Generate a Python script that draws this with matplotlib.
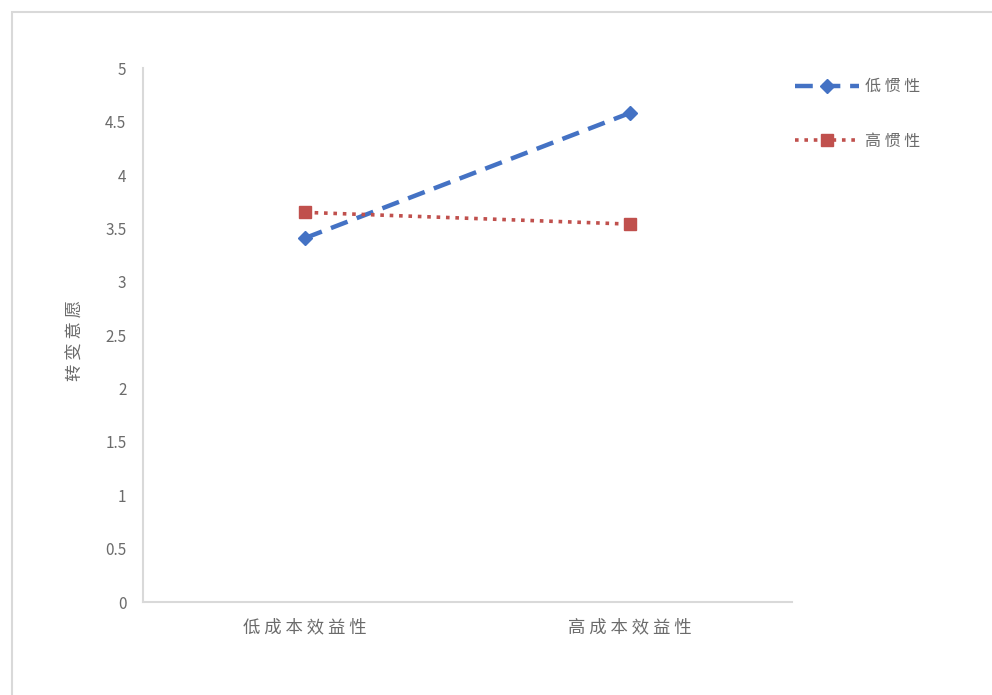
import matplotlib.pyplot as plt
from matplotlib.patches import Rectangle

plt.rcParams['font.family'] = ['Noto Sans CJK SC', 'DejaVu Sans']

# === Data ===
categories = ['低成本效益性', '高成本效益性']
low_inertia = [3.41, 4.58]
high_inertia = [3.65, 3.54]
series_names = ['低惯性', '高惯性']
y_ticks = [0, 0.5, 1, 1.5, 2, 2.5, 3, 3.5, 4, 4.5, 5]
y_label = '转变意愿'

text_gray = '#6b6b6b'
axis_gray = '#d9d9d9'


def spaced(s):
    # widen the CJK character spacing
    return ' '.join(s)


fig = plt.figure(figsize=(9.92, 6.95), dpi=100)
ax = fig.add_axes([0.1442, 0.1338, 0.654, 0.768])

x = list(range(len(categories)))
ax.plot(x, low_inertia, color='#4472c4', linestyle=(0, (4, 2.2)), linewidth=3.2,
        marker='D', markersize=7, label=spaced(series_names[0]))
ax.plot(x, high_inertia, color='#c0504d', linestyle=(0, (1, 1.6)), linewidth=2.6,
        marker='s', markersize=9, label=spaced(series_names[1]))

ax.set_xlim(-0.5, 1.5)
ax.set_ylim(0, 5)
ax.set_xticks(x)
ax.set_xticklabels([spaced(c) for c in categories], fontsize=12.5, color=text_gray)
ax.set_yticks(y_ticks)
ax.set_yticklabels([f'{v:g}' for v in y_ticks], fontsize=11, color=text_gray)
ax.tick_params(length=0, pad=12)
ax.tick_params(axis='x', pad=12)

for side in ['top', 'right']:
    ax.spines[side].set_visible(False)
for side in ['left', 'bottom']:
    ax.spines[side].set_color(axis_gray)
    ax.spines[side].set_linewidth(1.5)

fig.text(0.076, 0.51, spaced(y_label), rotation=90, ha='center', va='center',
         fontsize=12.5, color=text_gray)

leg = ax.legend(loc='upper left', bbox_to_anchor=(0.787, 0.908),
                bbox_transform=fig.transFigure, frameon=False,
                handlelength=4.0, handletextpad=0.4, labelspacing=2.35,
                fontsize=11.5)
for t in leg.get_texts():
    t.set_color(text_gray)

# outer chart frame
fig.patches.append(Rectangle((12 / 992, -0.1), 1.2, 1 - 12 / 695 + 0.1,
                             transform=fig.transFigure, fill=False,
                             edgecolor=axis_gray, linewidth=1.5))

fig.savefig('out.png', dpi=100, facecolor='white')
